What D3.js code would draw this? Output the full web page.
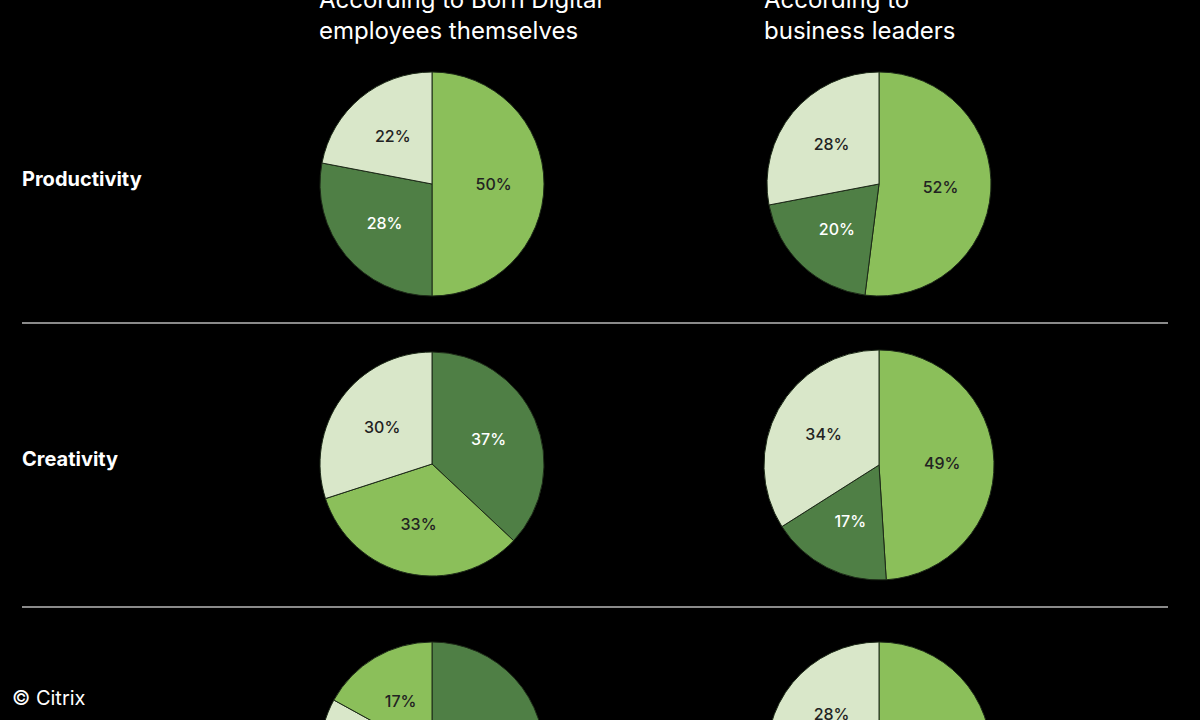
<!DOCTYPE html>
<html><head><meta charset="utf-8">
<script src="https://cdn.jsdelivr.net/npm/d3@7"></script>
<style>body{margin:0;background:#000}svg{display:block}</style>
</head><body>
<script>
var rows = ["Productivity", "Creativity", ""];
var columns = [["According to Born Digital", "employees themselves"], ["According to", "business leaders"]];
// each pie: slices clockwise from 12 o'clock
var employeeValues = [
  [["mid", 50], ["dark", 28], ["pale", 22]],
  [["dark", 37], ["mid", 33], ["pale", 30]],
  [["dark", 53], ["pale", 30], ["mid", 17]]
];
var leaderValues = [
  [["mid", 52], ["dark", 20], ["pale", 28]],
  [["mid", 49], ["dark", 17], ["pale", 34]],
  [["mid", 52], ["dark", 20], ["pale", 28]]
];
var colors = { mid: "#8bbf5a", dark: "#4f7f45", pale: "#d9e7c9" };

var svg = d3.select("body").append("svg").attr("width", 1200).attr("height", 720);
var font = "Inter, 'Noto Sans', sans-serif";

columns.forEach(function (lines, i) {
    var t = svg.append("text").attr("x", [319, 764][i]).attr("fill", "#fff")
        .style("font-family", font).style("font-size", "24px");
    t.append("tspan").attr("x", [319, 764][i]).attr("y", 8).text(lines[0]);
    t.append("tspan").attr("x", [319, 764][i]).attr("y", 39).text(lines[1]);
});

var rowY = [184, 464, 754];
rows.forEach(function (r, i) {
    svg.append("text").attr("x", 22).attr("y", rowY[i] + 2).attr("fill", "#fff")
        .style("font-family", font).style("font-size", "20px").style("font-weight", "bold").text(r);
});
[323, 607].forEach(function (y) {
    svg.append("line").attr("x1", 22).attr("x2", 1168).attr("y1", y).attr("y2", y)
        .attr("stroke", "#8a8a8a").attr("stroke-width", 2);
});

var pie = d3.pie().sort(null).value(d => d[1]);
var radii = [[112, 112], [112, 115], [112, 112]];
function drawPie(data, cx, cy, r) {
    var g = svg.append("g").attr("transform", "translate(" + cx + "," + cy + ")");
    var arc = d3.arc().innerRadius(0).outerRadius(r);
    var labelArc = d3.arc().innerRadius(r * 0.55).outerRadius(r * 0.55);
    var arcs = pie(data);
    g.selectAll("path").data(arcs).join("path")
        .attr("d", arc).attr("fill", d => colors[d.data[0]])
        .attr("stroke", "#1d2a18").attr("stroke-width", 1);
    g.selectAll("text").data(arcs).join("text")
        .attr("transform", d => "translate(" + labelArc.centroid(d) + ")")
        .attr("text-anchor", "middle").attr("dy", "0.35em")
        .attr("fill", d => d.data[0] == "dark" ? "#fff" : "#222")
        .style("font-family", font).style("font-size", "16px").style("font-weight", "500")
        .text(d => d.data[1] + "%");
}
employeeValues.forEach(function (d, i) { drawPie(d, 432, rowY[i], radii[i][0]); });
leaderValues.forEach(function (d, i) { drawPie(d, 879, rowY[i] + (i == 1 ? 1 : 0), radii[i][1]); });

svg.append("text").attr("x", 12).attr("y", 705).attr("fill", "#fff")
    .style("font-family", font).style("font-size", "20px").text("© Citrix");
</script>
</body></html>
